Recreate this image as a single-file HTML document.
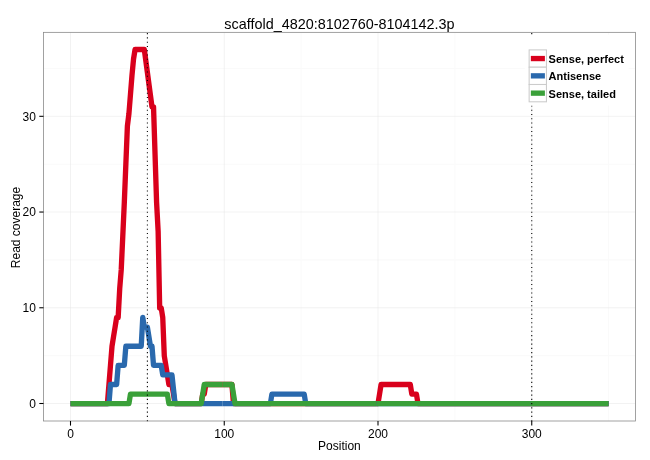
<!DOCTYPE html>
<html><head><meta charset="utf-8"><title>coverage</title>
<style>
html,body{margin:0;padding:0;background:#fff;}
body{width:650px;height:460px;overflow:hidden;position:relative;}
svg{will-change:transform;}
svg text{font-family:"Liberation Sans",sans-serif;}
</style></head><body>
<svg width="650" height="460" viewBox="0 0 650 460" style="position:absolute;left:0;top:0">
<rect x="0" y="0" width="650" height="460" fill="#ffffff"/>
<line x1="43.50" x2="635.50" y1="355.63" y2="355.63" stroke="#fafafa" stroke-width="1.07"/>
<line x1="43.50" x2="635.50" y1="259.90" y2="259.90" stroke="#fafafa" stroke-width="1.07"/>
<line x1="43.50" x2="635.50" y1="164.17" y2="164.17" stroke="#fafafa" stroke-width="1.07"/>
<line x1="43.50" x2="635.50" y1="68.44" y2="68.44" stroke="#fafafa" stroke-width="1.07"/>
<line x1="147.38" x2="147.38" y1="32.35" y2="421.00" stroke="#fafafa" stroke-width="1.07"/>
<line x1="301.12" x2="301.12" y1="32.35" y2="421.00" stroke="#fafafa" stroke-width="1.07"/>
<line x1="454.88" x2="454.88" y1="32.35" y2="421.00" stroke="#fafafa" stroke-width="1.07"/>
<line x1="608.62" x2="608.62" y1="32.35" y2="421.00" stroke="#fafafa" stroke-width="1.07"/>
<line x1="43.50" x2="635.50" y1="403.50" y2="403.50" stroke="#e5e5e5" stroke-width="0.5"/>
<line x1="43.50" x2="635.50" y1="307.77" y2="307.77" stroke="#e5e5e5" stroke-width="0.5"/>
<line x1="43.50" x2="635.50" y1="212.04" y2="212.04" stroke="#e5e5e5" stroke-width="0.5"/>
<line x1="43.50" x2="635.50" y1="116.31" y2="116.31" stroke="#e5e5e5" stroke-width="0.5"/>
<line x1="70.50" x2="70.50" y1="32.35" y2="421.00" stroke="#e5e5e5" stroke-width="0.5"/>
<line x1="224.25" x2="224.25" y1="32.35" y2="421.00" stroke="#e5e5e5" stroke-width="0.5"/>
<line x1="378.00" x2="378.00" y1="32.35" y2="421.00" stroke="#e5e5e5" stroke-width="0.5"/>
<line x1="531.75" x2="531.75" y1="32.35" y2="421.00" stroke="#e5e5e5" stroke-width="0.5"/>
<path d="M70.50,403.67 L107.40,403.67 L108.94,384.52 L110.47,365.38 L112.01,346.23 L113.55,336.66 L115.09,327.09 L116.62,317.51 L118.16,317.51 L119.70,288.79 L121.24,269.65 L122.78,236.14 L124.31,202.64 L125.85,164.34 L127.39,126.05 L128.93,113.61 L130.46,94.46 L132.00,75.32 L133.54,59.04 L135.07,49.47 L144.30,49.47 L145.84,60.96 L147.38,72.44 L148.91,83.93 L150.45,95.42 L151.99,106.91 L153.53,106.91 L155.06,154.77 L156.60,202.64 L158.14,231.36 L159.68,307.94 L161.21,307.94 L162.75,317.51 L164.29,355.81 L165.82,365.38 L167.36,374.95 L168.90,384.52 L171.98,384.52 L173.51,394.10 L175.05,403.67 L201.19,403.67 L202.72,394.10 L204.26,394.10 L205.80,384.52 L222.71,384.52" fill="none" stroke="#d9001c" stroke-width="5.33" stroke-linejoin="round" stroke-linecap="butt"/>
<path d="M222.71,384.52 L231.94,384.52 L233.48,403.67 L376.46,403.67" fill="none" stroke="#d9001c" stroke-width="5.33" stroke-linejoin="round" stroke-linecap="butt"/>
<path d="M376.46,403.67 L378.00,403.67 L379.54,394.10 L381.08,384.52 L410.29,384.52 L411.83,394.10 L416.44,394.10 L417.98,403.67 L530.21,403.67" fill="none" stroke="#d9001c" stroke-width="5.33" stroke-linejoin="round" stroke-linecap="butt"/>
<path d="M530.21,403.67 L608.62,403.67" fill="none" stroke="#d9001c" stroke-width="5.33" stroke-linejoin="round" stroke-linecap="butt"/>
<path d="M70.50,403.67 L108.94,403.67 L110.47,384.52 L116.62,384.52 L118.16,365.38 L124.31,365.38 L125.85,346.23 L141.23,346.23 L142.76,317.51 L144.30,327.09 L147.38,327.09 L148.91,336.66 L150.45,346.23 L151.99,346.23 L153.53,365.38 L161.21,365.38 L162.75,374.95 L171.98,374.95 L173.51,389.31 L175.05,403.67 L222.71,403.67" fill="none" stroke="#2a69ad" stroke-width="5.33" stroke-linejoin="round" stroke-linecap="butt"/>
<path d="M222.71,403.67 L270.38,403.67 L271.91,394.10 L304.20,394.10 L305.74,403.67 L376.46,403.67" fill="none" stroke="#2a69ad" stroke-width="5.33" stroke-linejoin="round" stroke-linecap="butt"/>
<path d="M376.46,403.67 L530.21,403.67" fill="none" stroke="#2a69ad" stroke-width="5.33" stroke-linejoin="round" stroke-linecap="butt"/>
<path d="M530.21,403.67 L608.62,403.67" fill="none" stroke="#2a69ad" stroke-width="5.33" stroke-linejoin="round" stroke-linecap="butt"/>
<path d="M70.50,403.67 L128.93,403.67 L130.46,394.10 L167.36,394.10 L168.90,403.67 L201.19,403.67 L202.72,394.10 L204.26,384.52 L222.71,384.52" fill="none" stroke="#3aa039" stroke-width="5.33" stroke-linejoin="round" stroke-linecap="butt"/>
<path d="M222.71,384.52 L231.94,384.52 L233.48,394.10 L235.01,403.67 L376.46,403.67" fill="none" stroke="#3aa039" stroke-width="5.33" stroke-linejoin="round" stroke-linecap="butt"/>
<path d="M376.46,403.67 L530.21,403.67" fill="none" stroke="#3aa039" stroke-width="5.33" stroke-linejoin="round" stroke-linecap="butt"/>
<path d="M530.21,403.67 L608.62,403.67" fill="none" stroke="#3aa039" stroke-width="5.33" stroke-linejoin="round" stroke-linecap="butt"/>
<line x1="147.38" x2="147.38" y1="421.18" y2="32.35" stroke="#000" stroke-width="1.07" stroke-dasharray="1.063 3.1897"/>
<line x1="531.75" x2="531.75" y1="421.18" y2="32.35" stroke="#000" stroke-width="1.07" stroke-dasharray="1.063 3.1897"/>
<rect x="524.8" y="34.8" width="103.8" height="70.8" fill="#fff"/>
<rect x="529.15" y="49.90" width="17.30" height="17.30" fill="#fff" stroke="#cccccc" stroke-width="1.07"/>
<rect x="529.15" y="67.20" width="17.30" height="17.30" fill="#fff" stroke="#cccccc" stroke-width="1.07"/>
<rect x="529.15" y="84.50" width="17.30" height="17.30" fill="#fff" stroke="#cccccc" stroke-width="1.07"/>
<line x1="530.85" x2="544.90" y1="58.55" y2="58.55" stroke="#d9001c" stroke-width="5.33"/>
<text x="548.6" y="62.75" font-size="11" font-weight="bold" fill="#000">Sense, perfect</text>
<line x1="530.85" x2="544.90" y1="75.85" y2="75.85" stroke="#2a69ad" stroke-width="5.33"/>
<text x="548.6" y="80.30" font-size="11" font-weight="bold" fill="#000">Antisense</text>
<line x1="530.85" x2="544.90" y1="93.15" y2="93.15" stroke="#3aa039" stroke-width="5.33"/>
<text x="548.6" y="98.30" font-size="11" font-weight="bold" fill="#000">Sense, tailed</text>
<rect x="43.50" y="32.35" width="592.00" height="388.65" fill="none" stroke="#8a8a8a" stroke-width="0.8"/>
<line x1="39.3" x2="43.50" y1="403.50" y2="403.50" stroke="#000" stroke-width="1.07"/>
<text x="35.9" y="407.80" font-size="12" text-anchor="end" fill="#000">0</text>
<line x1="39.3" x2="43.50" y1="307.77" y2="307.77" stroke="#000" stroke-width="1.07"/>
<text x="35.9" y="312.07" font-size="12" text-anchor="end" fill="#000">10</text>
<line x1="39.3" x2="43.50" y1="212.04" y2="212.04" stroke="#000" stroke-width="1.07"/>
<text x="35.9" y="216.34" font-size="12" text-anchor="end" fill="#000">20</text>
<line x1="39.3" x2="43.50" y1="116.31" y2="116.31" stroke="#000" stroke-width="1.07"/>
<text x="35.9" y="120.61" font-size="12" text-anchor="end" fill="#000">30</text>
<line x1="70.50" x2="70.50" y1="421.00" y2="425.6" stroke="#000" stroke-width="1.07"/>
<text x="70.50" y="438.0" font-size="12" text-anchor="middle" fill="#000">0</text>
<line x1="224.25" x2="224.25" y1="421.00" y2="425.6" stroke="#000" stroke-width="1.07"/>
<text x="224.25" y="438.0" font-size="12" text-anchor="middle" fill="#000">100</text>
<line x1="378.00" x2="378.00" y1="421.00" y2="425.6" stroke="#000" stroke-width="1.07"/>
<text x="378.00" y="438.0" font-size="12" text-anchor="middle" fill="#000">200</text>
<line x1="531.75" x2="531.75" y1="421.00" y2="425.6" stroke="#000" stroke-width="1.07"/>
<text x="531.75" y="438.0" font-size="12" text-anchor="middle" fill="#000">300</text>
<text x="339.4" y="28.8" font-size="14.4" text-anchor="middle" fill="#000">scaffold_4820:8102760-8104142.3p</text>
<text x="339.4" y="449.6" font-size="12" text-anchor="middle" fill="#000">Position</text>
<text transform="translate(19.5,227.5) rotate(-90)" font-size="12" text-anchor="middle" fill="#000">Read coverage</text>
</svg>
</body></html>
